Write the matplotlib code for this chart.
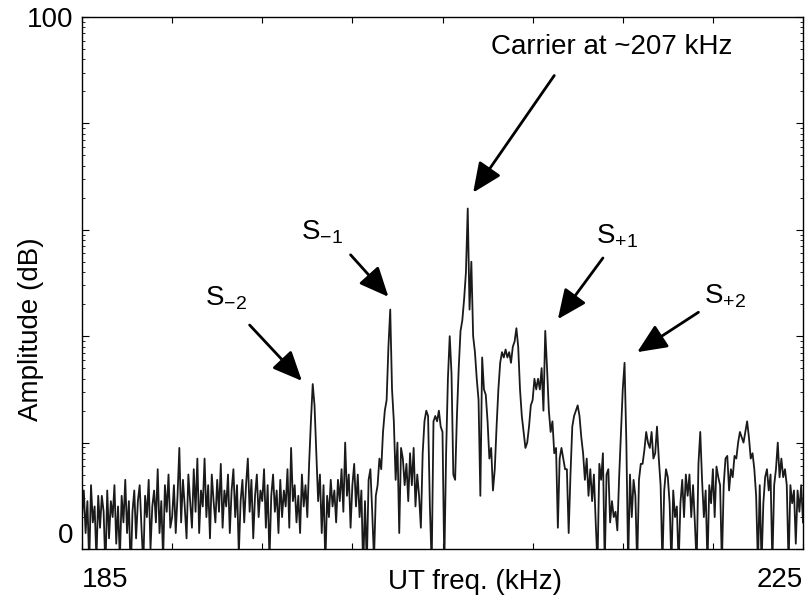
import numpy as np
import matplotlib
matplotlib.use('Agg')
import matplotlib.pyplot as plt

plt.rcParams['font.family'] = ['Liberation Sans', 'DejaVu Sans']
plt.rcParams['mathtext.default'] = 'regular'

# spectrum, one value every 0.1 kHz from 185 to 225 kHz (dB)
f_start, f_stop, f_step = 185.0, 225.0, 0.1
level_db = [
    6, 11, 3, 9, -3, 12, 5, 8, -2, 10,           # 185
    4, 10, 7, -4, 11, 2, 9, 6, 12, 1,            # 186
    8, -2, 10, 5, 13, 3, 9, -5, 7, 11,           # 187
    2, 9, 12, 4, -3, 10, 6, 13, 0, 8,            # 188
    11, 5, 15, 3, 9, -2, 12, 7, 14, 4,           # 189
    6, 12, 3, 10, 19, 5, 13, 8, 2, 14,           # 190
    9, 4, 15, 7, 17, 3, 11, 8, 17, 6,            # 191
    12, 2, 14, 9, 5, 13, 7, 16, 4, 11,           # 192
    8, 14, 3, 11, 15, 6, 12, -1, 9, 13,          # 193
    5, 12, 17, 7, 13, 2, 10, 14, 6, 11,          # 194
    9, 15, 4, 12, -2, 10, 14, 7, 11, 3,          # 195
    13, 6, 11, 8, 15, 4, 19, 9, 12, 5,           # 196
    10, 3, 14, 8, 12, 6, 16, 24, 31, 27,         # 197
    18, 9, 14, 3, 12, -3, 10, 6, 13, 8,          # 198
    11, 5, 13, 9, 15, 7, 20, 10, 14, 4,          # 199
    12, 16, 8, 14, 6, 11, -4, 9, -3, 13,         # 200
    15, 7, -2, 10, 12, 17, 15, 22, 26, 28,       # 201
    38, 45, 30, 24, 13, 20, 3, 19, 17, 12,       # 202
    16, 9, 18, 12, 19, 8, 14, 10, 4, 18,         # 203
    24, 26, 25, 8, -3, 24, 25, 24, 26, 23,       # 204
    22, -3, 18, 32, 40, 33, 14, 13, 25, 34,      # 205
    41, 43, 47, 52, 64, 45, 54, 40, 37, 32,      # 206
    28, 10, 36, 30, 29, 24, 17, 19, 11, 15,      # 207
    23, 30, 35, 37, 36, 37.5, 36, 37, 35, 38,    # 208
    39, 41.5, 38, 30, 25, 22, 19, 20, 23, 27,    # 209
    28, 32, 30, 32, 30, 34, 26, 41, 34, 26,      # 210
    22, 24, 18, 19, 4, 17, 19, 17, 15, 15,       # 211
    3, 14, 23, 25, 26, 27, 25, 21, 18, 13,       # 212
    17, 10, 15, 9, 14, 5, -3, 16, 13, 18,        # 213
    -3, 14, 15, 5, 9, 6, 7, 3.5, 13.5, 22,       # 214
    30, 35, 20, -3, 14, 6, 13, 10, -3, 13,       # 215
    16, 16, 18.6, 22, 20, 19, 22, 17, 18, 23,    # 216
    17, 12, -3, 11, 15, 13.5, 8.6, -3, 11, 6,    # 217
    8, -3, 8.6, 13, 6, 14, 10, 14, 6, 12,        # 218
    5, -3, 16, 22, 13, 6, 11, -3, 12, 8.6,       # 219
    15, 6, 15.5, 13.5, 12, -3, 12, 17, 17.5, 11, # 220
    15, 13.5, 17.5, 17, 20, 22, 21, 20, 22, 24,  # 221
    21, 17, 18, 15, 10, -3, 12, -3, 8.6, 13.5,   # 222
    15, 11, 14, -3, 12, 15, 20, 13.5, 17, 13.5,  # 223
    15, 12, -3, 12, 8.6, 11, 1, 11, 7, 12,       # 224
    5,                                           # 225
]

# annotations: label, text position, arrow tail, arrow tip  (kHz, dB)
labels = ['Carrier at ~207 kHz', 'S$_{-1}$', 'S$_{-2}$', 'S$_{+1}$', 'S$_{+2}$']
text_pos = [(214.4, 94.4), (198.3, 59.6), (193.0, 47.2), (214.7, 58.8), (220.7, 47.6)]
arrow_tail = [(211.2, 89.0), (199.9, 55.3), (194.3, 42.1), (213.9, 54.7), (219.2, 44.5)]
arrow_tip = [(206.7, 67.0), (202.0, 47.4), (197.2, 31.6), (211.4, 43.2), (215.8, 37.0)]


def db2amp(db):
    return 10 ** (np.asarray(db, dtype=float) / 20.0)


freq = np.round(np.arange(f_start, f_stop + f_step / 2, f_step), 2)
amp = db2amp(level_db)

fig = plt.figure(figsize=(8.12, 6.07), dpi=100)
ax = fig.add_axes([82 / 812, 1 - 549 / 607, 721 / 812, 532 / 607])

ax.plot(freq, amp, color='#1a1a1a', lw=1.3)
ax.set_yscale('log')
ax.set_xlim(185, 225)
ax.set_ylim(db2amp(0), db2amp(100))

ax.set_xticks(np.arange(185, 226, 5))
ax.set_xticklabels(['185'] + [''] * 7 + ['225'])
xl = ax.get_xticklabels()
xl[0].set_ha('left')
xl[-1].set_ha('right')
ax.set_yticks(db2amp(np.arange(0, 101, 20)))
ax.set_yticklabels(['0', '', '', '', '', '100'])
ax.get_yticklabels()[0].set_va('bottom')
ax.yaxis.set_minor_locator(matplotlib.ticker.LogLocator(base=10, subs=np.arange(2, 10)))
ax.yaxis.set_minor_formatter(matplotlib.ticker.NullFormatter())

ax.tick_params(which='both', direction='in', top=True, right=True, labelsize=20)
ax.tick_params(axis='x', which='major', length=4, pad=13)
ax.tick_params(axis='y', which='major', length=5, pad=6)
ax.tick_params(axis='y', which='minor', length=2.5)
for s in ax.spines.values():
    s.set_linewidth(1.0)

ax.set_xlabel('UT freq. (kHz)', fontsize=20)
ax.xaxis.set_label_coords(0.545, -0.037)
ax.set_ylabel('Amplitude (dB)', fontsize=20)
ax.yaxis.set_label_coords(-0.053, 0.414)

for lab, tp, tail, tip in zip(labels, text_pos, arrow_tail, arrow_tip):
    ax.text(tp[0], db2amp(tp[1]), lab, fontsize=20, ha='center', va='center')
    ax.annotate('', xy=(tip[0], db2amp(tip[1])), xytext=(tail[0], db2amp(tail[1])),
                arrowprops=dict(arrowstyle='-|>,head_length=0.9,head_width=0.4',
                                color='black', lw=2.0, shrinkA=0, shrinkB=0,
                                mutation_scale=20))

fig.savefig('out.png', dpi=100)
